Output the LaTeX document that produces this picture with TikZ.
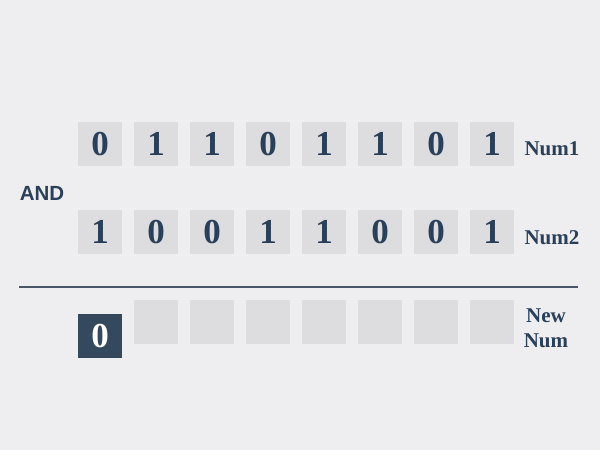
\documentclass[tikz,border=0pt]{standalone}
\usepackage{fontspec}
\setmainfont{Liberation Serif}
\newfontfamily\labelfont{Liberation Sans}
\definecolor{bgcol}{HTML}{EEEDEF}
\definecolor{boxcol}{HTML}{DDDCDE}
\definecolor{inkcol}{HTML}{2A4059}
\definecolor{darkbox}{HTML}{34495E}
\definecolor{rulecol}{HTML}{4A5566}
\tikzset{
  bitbox/.style={fill=boxcol, minimum size=44pt, inner sep=0pt, text=inkcol,
    font=\fontsize{35}{35}\selectfont\bfseries},
  resbox/.style={bitbox, fill=darkbox, text=white},
  rowlabel/.style={text=inkcol, font=\fontsize{21}{25}\selectfont\bfseries, align=center}
}
\begin{document}
\begin{tikzpicture}[x=1pt, y=-1pt]
        % Background
        \fill[bgcol] (0,0) rectangle (600,450);
        \useasboundingbox (0,0) rectangle (600,450);

        % First number
        \foreach \b [count=\i] in {0,1,1,0,1,1,0,1}
            \node[bitbox] (a\i) at (44+56*\i, 144) {\b};
        \node[rowlabel] (numa) at (552,149) {Num1};

        % Operator
        \node[text=inkcol, font=\labelfont\fontsize{20.5}{20.5}\selectfont\bfseries] (op) at (42,193) {AND};

        % Second number
        \foreach \b [count=\i] in {1,0,0,1,1,0,0,1}
            \node[bitbox] (b\i) at (44+56*\i, 232) {\b};
        \node[rowlabel] (numb) at (552,238) {Num2};

        % Rule under the operands
        \coordinate (rl) at (19,287);
        \coordinate (rr) at (578,287);
        \draw[rulecol, line width=2pt] (rl) -- (rr);

        % Result, first bit done
        \node[resbox] (c1) at (100,336) {0};
        \foreach \i in {2,...,8}
            \node[bitbox] (c\i) at (44+56*\i, 322) {};
        \node[rowlabel] (numc) at (546,328) {New\\Num};
    \end{tikzpicture}
\end{document}
